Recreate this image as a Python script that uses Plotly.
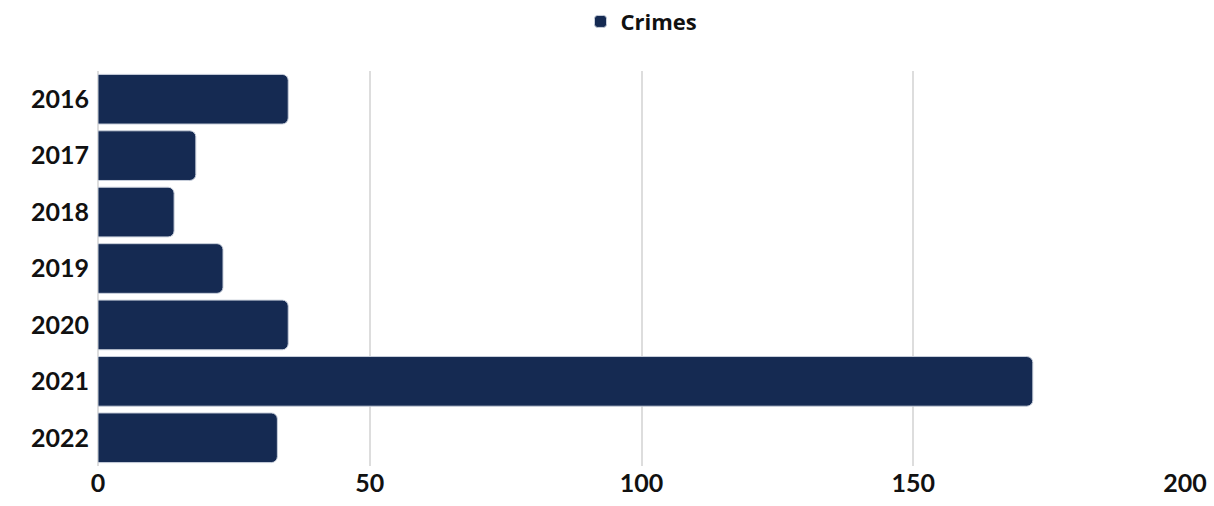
import plotly.graph_objects as go

years = ["2016", "2017", "2018", "2019", "2020", "2021", "2022"]
crimes = [35, 18, 14, 23, 35, 172, 33]
x_ticks = [0, 50, 100, 150, 200]

fig = go.Figure()
fig.add_trace(go.Bar(
    y=years, x=crimes, orientation="h", name="Crimes",
    marker=dict(color="#152a52", line=dict(color="#c8cfdb", width=1)),
    showlegend=True,
))
fig.update_layout(
    width=1214, height=506,
    margin=dict(l=98, r=29, t=71, b=40, autoexpand=False),
    paper_bgcolor="white", plot_bgcolor="white",
    bargap=0.12, barcornerradius=6,
    font=dict(family="Lato", size=24, color="#111111"),
    legend=dict(orientation="h", x=0.5, xanchor="center", y=1.125, yanchor="middle",
                font=dict(size=22, family="Open Sans", weight="bold"),
                itemwidth=30),
    xaxis=dict(range=[0, 200], tickvals=x_ticks, showgrid=True, gridcolor="#dddddd",
               gridwidth=1.5, zeroline=True, zerolinecolor="#dddddd", zerolinewidth=1.5,
               tickfont=dict(size=25, family="Lato", weight="bold"), ticks="", ticklen=0,
               automargin=False),
    yaxis=dict(autorange="reversed", categoryorder="array", categoryarray=years,
               tickfont=dict(size=25, family="Lato", weight="bold"), ticks="",
               ticklabelstandoff=8, showgrid=False, automargin=False),
)
fig.write_html("out.html", config={"displayModeBar": False},
               post_script="document.body.style.margin='0';")
